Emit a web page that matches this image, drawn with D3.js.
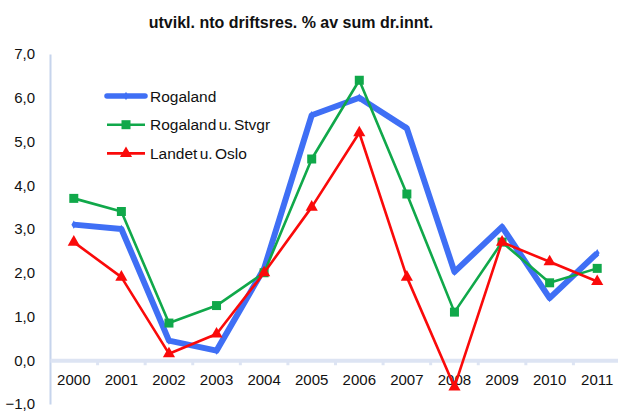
<!DOCTYPE html>
<html>
<head>
<meta charset="utf-8">
<script src="https://cdn.jsdelivr.net/npm/d3@7"></script>
<style>
  body { margin: 0; background: #fff; }
  text { font-family: "Liberation Sans", Arial, sans-serif; }
</style>
</head>
<body>
<svg id="chart" width="618" height="412"></svg>
<script>
// data
const years = ["2000","2001","2002","2003","2004","2005","2006","2007","2008","2009","2010","2011"];
const rogaland = [3.1, 3.0, 0.45, 0.22, 2.1, 5.6, 6.0, 5.3, 2.02, 3.05, 1.42, 2.45];
const rogalandUStvgr = [3.7, 3.4, 0.85, 1.25, 2.0, 4.6, 6.4, 3.8, 1.1, 2.7, 1.77, 2.1];
const landetUOslo = [2.7, 1.9, 0.15, 0.6, 2.0, 3.5, 5.2, 1.9, -0.61, 2.7, 2.25, 1.8];
const yTicks = [-1, 0, 1, 2, 3, 4, 5, 6, 7];
const title = "utvikl. nto driftsres. % av sum dr.innt.";

const seriesList = [
  {name: "Rogaland", values: rogaland, color: "#3f6ff5", width: 6, marker: "diamond"},
  {name: "Rogaland u. Stvgr", values: rogalandUStvgr, color: "#10a84a", width: 2.6, marker: "square"},
  {name: "Landet u. Oslo", values: landetUOslo, color: "#fa0a0a", width: 2.6, marker: "triangle"}
];

const svg = d3.select("#chart");
const margin = {top: 54, left: 50};

const g = svg.append("g").attr("transform", `translate(${margin.left},${margin.top})`);

const xScale = d3.scaleBand().domain(years).range([0, 571]);
const xPos = d => xScale(d) + xScale.bandwidth() / 2;
const yScale = d3.scaleLinear().domain([-1, 7]).range([350, 0]);

// title
svg.append("text")
  .attr("x", 291).attr("y", 28)
  .attr("text-anchor", "middle")
  .attr("font-size", 16).attr("font-weight", "bold")
  .attr("fill", "#111")
  .text(title);

// y axis
const yAxis = d3.axisLeft(yScale).tickValues(yTicks).tickSize(0).tickPadding(15)
  .tickFormat(d => d3.format(".1f")(d).replace(".", ","));
const yAxisG = g.append("g").call(yAxis);
yAxisG.select(".domain").attr("stroke", "#c6d4ec").attr("stroke-width", 2);
yAxisG.selectAll("text").attr("font-size", 15).attr("fill", "#111").attr("font-family", "Liberation Sans, Arial, sans-serif");

// x axis at zero
const xAxis = d3.axisBottom(xScale).tickSize(0).tickPadding(14);
const xAxisG = g.append("g").attr("transform", `translate(0,${yScale(0)})`).call(xAxis);
xAxisG.select(".domain").attr("stroke", "#dde4f3").attr("stroke-width", 4);
xAxisG.selectAll("text").attr("font-size", 15).attr("fill", "#111").attr("font-family", "Liberation Sans, Arial, sans-serif");
xAxisG.selectAll(".sep")
  .data(years.slice(1))
  .join("line")
  .attr("class", "sep")
  .attr("x1", d => xScale(d)).attr("x2", d => xScale(d))
  .attr("y1", 0).attr("y2", 5)
  .attr("stroke", "#dde4f3").attr("stroke-width", 3);

const symbolFor = {
  diamond: d3.symbol().type(d3.symbolDiamond).size(20),
  square: d3.symbol().type(d3.symbolSquare).size(81),
  triangle: d3.symbol().type(d3.symbolTriangle).size(64)
};

const line = d3.line()
  .x((d, i) => xPos(years[i]))
  .y(d => yScale(d));

seriesList.forEach(s => {
  g.append("path")
    .datum(s.values)
    .attr("d", line)
    .attr("fill", "none")
    .attr("stroke", s.color)
    .attr("stroke-width", s.width)
    .attr("stroke-linejoin", "round");
  g.selectAll(null)
    .data(s.values)
    .join("path")
    .attr("transform", (d, i) => `translate(${xPos(years[i])},${yScale(d)})`)
    .attr("d", symbolFor[s.marker])
    .attr("fill", s.color);
});

// legend
const legend = svg.append("g").attr("transform", "translate(107,96)");
seriesList.forEach((s, i) => {
  const row = legend.append("g").attr("transform", `translate(0,${i * 28.7})`);
  row.append("line")
    .attr("x1", 0).attr("x2", 38).attr("y1", 0).attr("y2", 0)
    .attr("stroke", s.color).attr("stroke-width", i === 0 ? 5.5 : s.width)
    .attr("stroke-linecap", i === 0 ? "round" : "butt");
  row.append("path")
    .attr("transform", "translate(19,0)")
    .attr("d", symbolFor[s.marker])
    .attr("fill", s.color);
  row.append("text")
    .attr("x", 43).attr("y", 5.5)
    .attr("font-size", 15.5).attr("fill", "#111")
    .attr("word-spacing", -2)
    .text(s.name);
});
</script>
</body>
</html>
